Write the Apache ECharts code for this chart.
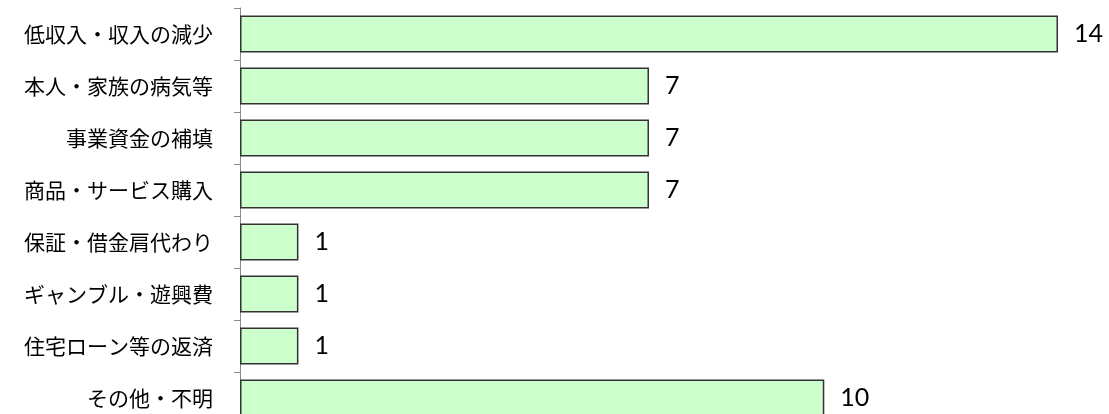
<!DOCTYPE html>
<html>
<head>
<meta charset="utf-8">
<script src="https://cdn.jsdelivr.net/npm/echarts@6/dist/echarts.min.js"></script>
<style>
  html, body { margin: 0; padding: 0; background: #fff; }
  #chart { width: 1109px; height: 414px; }
</style>
</head>
<body>
<div id="chart"></div>
<script>
  // 理由別の件数
  const categories = ['低収入・収入の減少', '本人・家族の病気等', '事業資金の補填', '商品・サービス購入',
    '保証・借金肩代わり', 'ギャンブル・遊興費', '住宅ローン等の返済', 'その他・不明']
  const counts = [14, 7, 7, 7, 1, 1, 1, 10]

  const chart = echarts.init(document.getElementById('chart'))
  const option = {
    animation: false,
    grid: {
      left: 240,
      top: 8,
      width: 818,
      height: 416,
      containLabel: false,
      outerBoundsMode: 'none'
    },
    xAxis: {
      type: 'value',
      min: 0,
      max: 14,
      show: false
    },
    yAxis: {
      type: 'category',
      data: categories,
      inverse: true,
      axisLine: { show: true, lineStyle: { color: '#8c8c8c', width: 1 } },
      axisTick: { show: true, length: 6, lineStyle: { color: '#8c8c8c' } },
      axisLabel: {
        margin: 27,
        fontSize: 21,
        color: '#000',
        fontFamily: '"Noto Sans CJK JP", sans-serif'
      },
      splitLine: { show: false }
    },
    series: [{
      type: 'bar',
      data: counts,
      barWidth: 37,
      itemStyle: {
        color: '#ccffcc',
        borderColor: '#333333',
        borderWidth: 1.5
      },
      label: {
        show: true,
        position: 'right',
        distance: 16,
        fontSize: 25,
        color: '#000',
        fontFamily: 'Lato, sans-serif'
      }
    }]
  }
  chart.setOption(option)
</script>
</body>
</html>
